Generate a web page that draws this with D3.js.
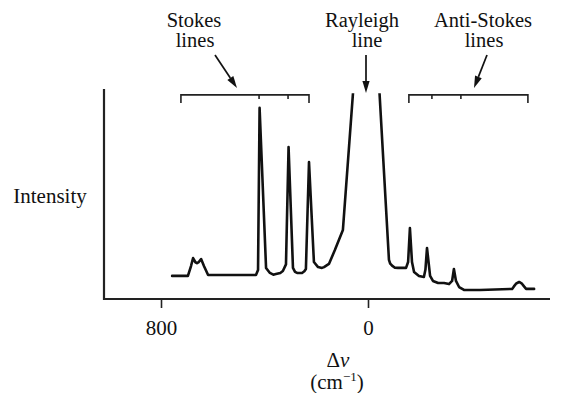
<!DOCTYPE html>
<html>
<head>
<meta charset="utf-8">
<script src="https://cdn.jsdelivr.net/npm/d3@7"></script>
<style>
  body { margin: 0; background: #fff; }
  text { font-family: "Liberation Serif", "Times New Roman", serif; fill: #111; }
</style>
</head>
<body>
<svg id="chart" width="570" height="393"></svg>
<script>
// Raman shift (cm^-1) and relative intensity
var shift = [757, 696, 684, 676, 667, 661, 654, 645, 634, 618,
  433, 425, 419, 394, 379, 366, 356, 339, 329, 317, 307,
  290, 282, 274, 255, 246, 240, 228, 209, 193, 178, 170, 151, 128, 97, 0,
  -81, -86, -93, -104, -116, -147, -155, -162, -170, -178, -197, -216, -222, -228,
  -240, -251, -271, -294, -313, -325, -332, -340, -352, -371, -433, -557,
  -564, -572, -584, -595, -603, -611, -642];
var intensity = [11, 11, 15.7, 19.5, 17.5, 17.1, 17.6, 19, 15.7, 11.4,
  11.4, 13.8, 91, 14.8, 12.4, 11.6, 11.9, 12.4, 13.3, 16.5, 72.4,
  14.8, 12.9, 12.4, 12.4, 13.2, 14.3, 65.2, 17.6, 15.2, 14.8, 15.2, 16.7, 23.3, 32.9, 195,
  18.6, 16.8, 15.9, 14.9, 14.8, 14.8, 17.6, 33.8, 17.6, 12.9, 11, 10.5, 14, 24.3,
  11, 8.6, 7.6, 7.6, 7.1, 8.6, 14.3, 8.6, 5.7, 4.3, 4.3, 4.8,
  6, 7.3, 8.1, 7.3, 6, 4.8, 4.8];

var xTicks = [800, 0];
// bracket spans and inner ticks (cm^-1)
var stokesBracket = [723, 228], stokesTicks = [421, 309];
var antiBracket = [-158, -618], antiTicks = [-247, -359];

var svg = d3.select('#chart');
var W = 570, H = 393;
var plotL = 104, plotR = 550, plotT = 89, plotB = 299;

var x = d3.scaleLinear().domain([800, 0]).range([161, 368]);
var y = d3.scaleLinear().domain([0, 100]).range([plotB, plotT]);

svg.append('rect').attr('width', W).attr('height', H).attr('fill', '#fff');

// axes
var xAxis = d3.axisBottom(x).tickValues(xTicks).tickSize(9).tickPadding(12).tickFormat(d3.format('d'));
var gx = svg.append('g').attr('transform', 'translate(0,' + plotB + ')').call(xAxis);
gx.select('.domain').remove();
gx.selectAll('line').attr('stroke', '#222').attr('stroke-width', 1.6);
gx.selectAll('text').attr('font-size', 21).attr('font-family', '"Liberation Serif", serif').attr('fill', '#111');

svg.append('path')
  .attr('d', 'M' + plotL + ',' + plotT + 'V' + plotB + 'H' + plotR)
  .attr('fill', 'none').attr('stroke', '#222').attr('stroke-width', 2.2);

// spectrum, clipped at the top so the Rayleigh peak runs off
svg.append('clipPath').attr('id', 'clip')
  .append('rect').attr('x', plotL).attr('y', y(98)).attr('width', plotR - plotL).attr('height', plotB - y(98));

var pts = d3.zip(shift, intensity);
var line = d3.line().x(function(d) { return x(d[0]); }).y(function(d) { return y(d[1]); });
svg.append('path')
  .datum(pts)
  .attr('clip-path', 'url(#clip)')
  .attr('d', line)
  .attr('fill', 'none')
  .attr('stroke', '#111')
  .attr('stroke-width', 2.6)
  .attr('stroke-linejoin', 'round')
  .attr('stroke-linecap', 'round');

// brackets
function bracket(span, ticks) {
  var by = y(97.2);
  svg.append('path')
    .attr('d', 'M' + x(span[0]) + ',' + (by + 8) + 'V' + by + 'H' + x(span[1]) + 'V' + (by + 8))
    .attr('fill', 'none').attr('stroke', '#222').attr('stroke-width', 1.6);
  svg.selectAll(null).data(ticks).enter().append('line')
    .attr('x1', function(d) { return x(d); }).attr('x2', function(d) { return x(d); })
    .attr('y1', by).attr('y2', by + 4)
    .attr('stroke', '#222').attr('stroke-width', 1.6);
}
bracket(stokesBracket, stokesTicks);
bracket(antiBracket, antiTicks);

// arrows
function arrow(x1, y1, x2, y2) {
  var a = Math.atan2(y2 - y1, x2 - x1), len = 12, w = 3.6;
  var bx = x2 - len * Math.cos(a), by = y2 - len * Math.sin(a);
  svg.append('line').attr('x1', x1).attr('y1', y1).attr('x2', bx).attr('y2', by)
    .attr('stroke', '#111').attr('stroke-width', 1.7);
  svg.append('path')
    .attr('d', 'M' + x2 + ',' + y2 +
      'L' + (bx + w * Math.sin(a)) + ',' + (by - w * Math.cos(a)) +
      'L' + (bx - w * Math.sin(a)) + ',' + (by + w * Math.cos(a)) + 'Z')
    .attr('fill', '#111');
}
arrow(215, 55, 237, 88);
arrow(366, 55, 366, 93);
arrow(487, 55, 474, 88);

// labels
var labels = [
  ['Stokes', 194, 27], ['lines', 195, 47],
  ['Rayleigh', 362, 27], ['line', 367, 47],
  ['Anti-Stokes', 483, 27], ['lines', 484, 47]
];
svg.selectAll(null).data(labels).enter().append('text')
  .attr('x', function(d) { return d[1]; }).attr('y', function(d) { return d[2]; })
  .attr('text-anchor', 'middle').attr('font-size', 20.5)
  .text(function(d) { return d[0]; });

svg.append('text').attr('x', 50).attr('y', 203).attr('text-anchor', 'middle')
  .attr('font-size', 21).text('Intensity');

svg.append('text').attr('x', 338).attr('y', 367).attr('text-anchor', 'middle')
  .attr('font-size', 21).text('Δ').append('tspan').attr('font-style', 'italic').text('ν');
var unit = svg.append('text').attr('x', 337).attr('y', 389).attr('text-anchor', 'middle').attr('font-size', 21);
unit.append('tspan').text('(cm');
unit.append('tspan').attr('dy', -8).attr('font-size', 13).text('−1');
unit.append('tspan').attr('dy', 8).text(')');
</script>
</body>
</html>
